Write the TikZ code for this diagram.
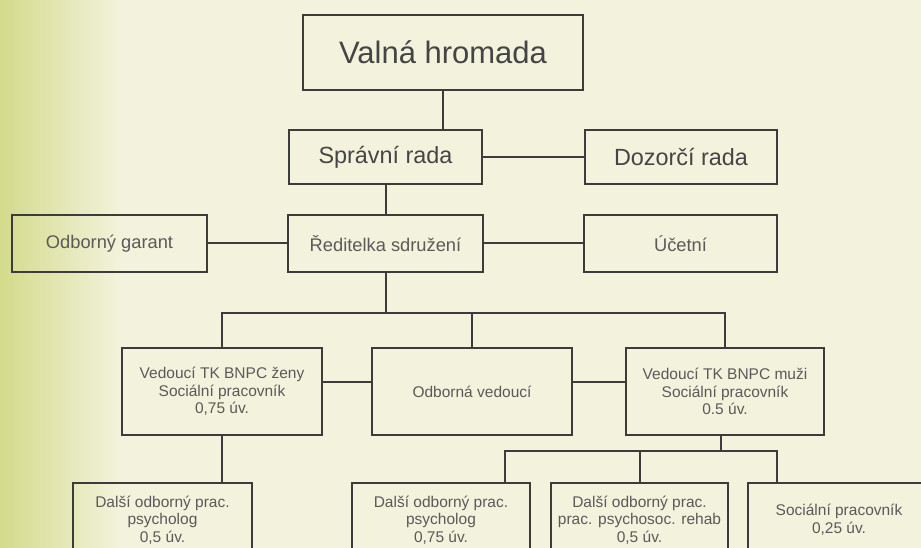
\documentclass[tikz,border=0pt]{standalone}
\usepackage{fontspec}
\setmainfont{Liberation Sans}
\definecolor{bgcream}{HTML}{F3F2DC}
\definecolor{bggreen}{HTML}{D3DB8B}
\definecolor{linec}{HTML}{3C3C3C}
\definecolor{txtbig}{HTML}{454545}
\definecolor{txtsmall}{HTML}{5A5A5A}
\begin{document}
\begin{tikzpicture}[x=1pt,y=-1pt,
  box/.style={draw=linec, line width=2pt, rectangle, inner sep=0pt, align=center},
  huge/.style={box, text=txtbig, font=\fontsize{31}{36}\selectfont},
  large/.style={box, text=txtbig, font=\fontsize{23.4}{28}\selectfont},
  mid/.style={box, text=txtsmall, font=\fontsize{18.3}{22}\selectfont},
  small/.style={box, text=txtsmall, font=\fontsize{15.5}{17.5}\selectfont},
  conn/.style={draw=linec, line width=2pt}]
\useasboundingbox (0,0) rectangle (921,548);
\fill[bgcream] (0,0) rectangle (921,548);
\shade[left color=bggreen, right color=bgcream, shading angle=90] (0,0) rectangle (120,548);
\fill[bggreen] (0,0) rectangle (1,548);

\node[huge, minimum width=280pt, minimum height=75pt] (valna) at (443,52.5) {Valná hromada};
\node[large, minimum width=193pt, minimum height=54pt] (spravni) at (385.5,157) {Správní rada};
\node[large, minimum width=192pt, minimum height=54pt] (dozorci) at (681,157) {Dozorčí rada};
\node[mid, minimum width=195pt, minimum height=57pt] (reditelka) at (385.5,243.5) {Ředitelka sdružení};
\node[mid, minimum width=195pt, minimum height=57pt] (garant) at (109.5,243.5) {Odborný garant};
\node[mid, minimum width=193pt, minimum height=57pt] (ucetni) at (680.5,243.5) {Účetní};

\node[small, minimum width=200pt, minimum height=87pt] (zeny) at (222,391.5) {Vedoucí TK BNPC ženy\\Sociální pracovník\\0,75 úv.};
\node[small, minimum width=200pt, minimum height=87pt] (odborna) at (472,391.5) {Odborná vedoucí};
\node[small, minimum width=198pt, minimum height=87pt] (muzi) at (725,391.5) {Vedoucí TK BNPC muži\\Sociální pracovník\\0.5 úv.};

\node[small, minimum width=179pt, minimum height=74pt] (d1) at (162.5,520) {Další odborný prac.\\psycholog\\0,5 úv.};
\node[small, minimum width=178pt, minimum height=74pt] (d2) at (441,520) {Další odborný prac.\\psycholog\\0,75 úv.};
\node[small, minimum width=177pt, minimum height=74pt] (d3) at (639.5,520) {Další odborný prac.\\prac. psychosoc. rehab\\0,5 úv.};
\node[small, minimum width=182pt, minimum height=74pt] (soc) at (839,520) {Sociální pracovník\\0,25 úv.};

\draw[conn] (valna.south) -- (valna.south |- spravni.north);
\draw[conn] (spravni.east) -- (dozorci.west);
\draw[conn] (spravni.south) -- (reditelka.north);
\draw[conn] (garant.east) -- (reditelka.west);
\draw[conn] (reditelka.east) -- (ucetni.west);

\coordinate (bus1) at (385.5,313);
\draw[conn] (reditelka.south) -- (bus1);
\draw[conn] (zeny.north) |- (bus1) -| (muzi.north);
\draw[conn] (bus1 -| odborna.north) -- (odborna.north);
\draw[conn] ([yshift=9.5pt]zeny.east) -- ([yshift=9.5pt]odborna.west);
\draw[conn] ([yshift=9.5pt]odborna.east) -- ([yshift=9.5pt]muzi.west);

\draw[conn] (zeny.south) -- (zeny.south |- d1.north);
\coordinate (bus2) at (721,451);
\coordinate (b2l) at (505,451);
\coordinate (b2r) at (777,451);
\draw[conn] (bus2 |- muzi.south) -- (bus2);
\draw[conn] (b2l |- d2.north) -- (b2l) -- (b2r) -- (b2r |- soc.north);
\draw[conn] (d3.north) -- (d3.north |- b2l);
\end{tikzpicture}
\end{document}
